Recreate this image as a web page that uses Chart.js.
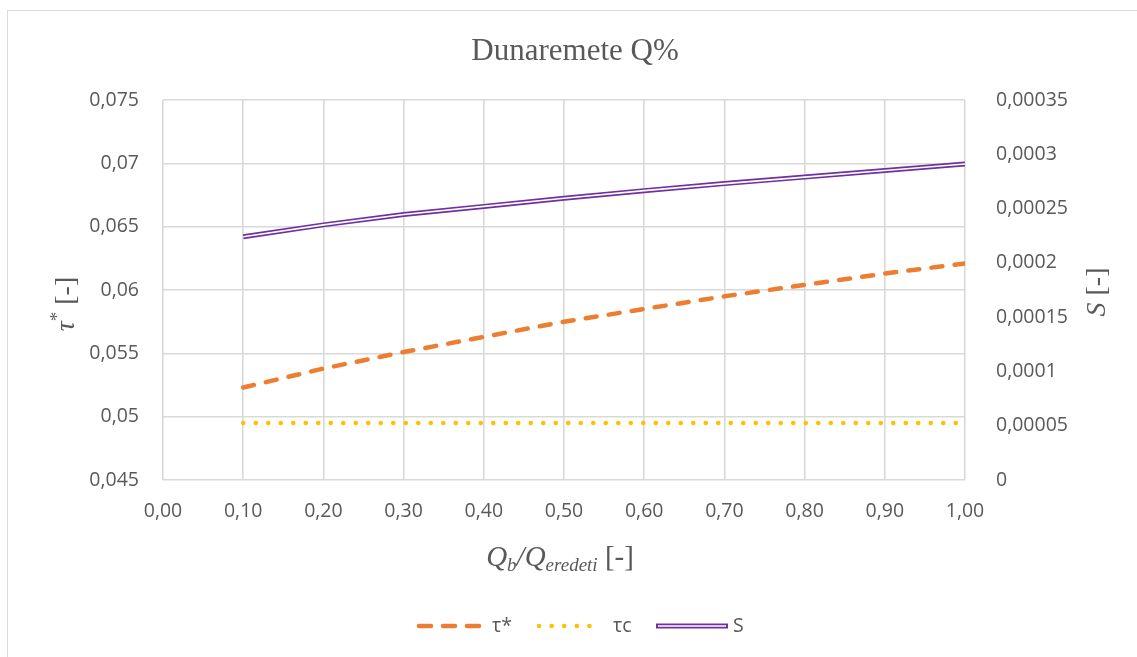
<!DOCTYPE html>
<html>
<head>
<meta charset="utf-8">
<script src="https://cdn.jsdelivr.net/npm/chart.js@4/dist/chart.umd.min.js"></script>
<style>
html, body { margin: 0; padding: 0; background: #fff; }
#wrap { position: relative; width: 1137px; height: 657px; overflow: hidden; }
#frame { position: absolute; left: 7px; top: 10px; width: 1300px; height: 800px; border: 1px solid #d9d9d9; }
canvas { position: absolute; left: 0; top: 0; }
</style>
</head>
<body>
<div id="wrap">
  <div id="frame"></div>
  <canvas id="myChart" width="1137" height="657"></canvas>
</div>
<script>
'use strict';

// values
const ratio = [0.1, 0.2, 0.3, 0.4, 0.5, 0.6, 0.7, 0.8, 0.9, 1.0];
const tauStar = [0.0523, 0.0538, 0.0551, 0.0563, 0.0575, 0.0585, 0.0595, 0.0604, 0.0613, 0.0621];
const tauC = [0.0495, 0.0495, 0.0495, 0.0495, 0.0495, 0.0495, 0.0495, 0.0495, 0.0495, 0.0495];
const slope = [0.000224, 0.000235, 0.0002445, 0.000252, 0.0002595, 0.0002665, 0.000273, 0.000279, 0.000285, 0.000291];

const chartTitle = 'Dunaremete Q%';
const legendLabels = ['τ*', 'τc', 'S'];

const ORANGE = '#ed7d31';
const YELLOW = '#ffc000';
const PURPLE = '#7030a0';
const GRID = '#d9d9d9';
const TEXT = '#595959';
const TICK_FONT = { family: "'Open Sans'", size: 19.5 };

function points(ys) {
    return ratio.map((x, i) => ({ x: x, y: ys[i] }));
}

function fmt(v) {
    return String(Number(v.toFixed(6))).replace('.', ',');
}

// draws a row of text pieces with different fonts
function drawRuns(ctx, runs, x, y, align) {
    let total = 0;
    runs.forEach(r => {
        ctx.font = r.font;
        r.w = ctx.measureText(r.text).width;
        total += r.w;
    });
    let cx = align === 'center' ? x - total / 2 : x;
    runs.forEach(r => {
        ctx.font = r.font;
        ctx.fillText(r.text, cx, y + (r.dy || 0));
        cx += r.w;
    });
}

const serif = "'Liberation Serif', 'Times New Roman', serif";

const decorations = {
    id: 'decorations',
    afterDraw(chart) {
        const ctx = chart.ctx;
        ctx.save();
        ctx.fillStyle = TEXT;
        ctx.textBaseline = 'alphabetic';
        ctx.textAlign = 'left';

        // title
        drawRuns(ctx, [{ text: chartTitle, font: '31px ' + serif }], 575, 60, 'center');

        // x axis title
        drawRuns(ctx, [
            { text: 'Q', font: 'italic 29px ' + serif },
            { text: 'b', font: 'italic 19px ' + serif, dy: 5 },
            { text: '/', font: 'italic 29px ' + serif },
            { text: 'Q', font: 'italic 29px ' + serif },
            { text: 'eredeti', font: 'italic 19px ' + serif, dy: 5 },
            { text: ' [-]', font: '29px ' + serif }
        ], 560, 566, 'center');

        // left axis title
        ctx.save();
        ctx.translate(74, 304);
        ctx.rotate(-Math.PI / 2);
        drawRuns(ctx, [
            { text: 'τ', font: 'italic 28px ' + serif },
            { text: '*', font: '19px ' + serif, dy: -11 },
            { text: ' [-]', font: '28px ' + serif }
        ], 0, 0, 'center');
        ctx.restore();

        // right axis title
        ctx.save();
        ctx.translate(1105, 292);
        ctx.rotate(-Math.PI / 2);
        drawRuns(ctx, [
            { text: 'S', font: 'italic 28px ' + serif },
            { text: ' [-]', font: '28px ' + serif }
        ], 0, 0, 'center');
        ctx.restore();

        // legend
        const ly = 626;
        ctx.lineWidth = 4.5;
        ctx.lineCap = 'round';
        ctx.strokeStyle = ORANGE;
        ctx.setLineDash([12, 12]);
        ctx.beginPath(); ctx.moveTo(419, ly); ctx.lineTo(481, ly); ctx.stroke();
        ctx.strokeStyle = YELLOW;
        ctx.setLineDash([0.1, 12.5]);
        ctx.beginPath(); ctx.moveTo(539, ly); ctx.lineTo(602, ly); ctx.stroke();
        ctx.setLineDash([]);
        ctx.lineCap = 'butt';
        ctx.strokeStyle = PURPLE;
        ctx.lineWidth = 5;
        ctx.beginPath(); ctx.moveTo(656, ly); ctx.lineTo(728, ly); ctx.stroke();
        ctx.strokeStyle = '#fff';
        ctx.lineWidth = 1.6;
        ctx.beginPath(); ctx.moveTo(658, ly); ctx.lineTo(726, ly); ctx.stroke();

        ctx.fillStyle = TEXT;
        ctx.font = TICK_FONT.size + 'px ' + TICK_FONT.family;
        ctx.textBaseline = 'middle';
        ctx.fillText(legendLabels[0], 492, ly);
        ctx.fillText(legendLabels[1], 613, ly);
        ctx.fillText(legendLabels[2], 733, ly);
        ctx.restore();
    }
};

const ctx = document.getElementById('myChart').getContext('2d');
const chart = new Chart(ctx, {
    type: 'line',
    data: {
        datasets: [
            {
                label: 'S-inner',
                data: points(slope),
                yAxisID: 'y1',
                borderColor: '#ffffff',
                borderWidth: 1.6,
                pointRadius: 0,
                order: 0
            },
            {
                label: legendLabels[2],
                data: points(slope),
                yAxisID: 'y1',
                borderColor: PURPLE,
                borderWidth: 5,
                pointRadius: 0,
                order: 1
            },
            {
                label: legendLabels[0],
                data: points(tauStar),
                yAxisID: 'y',
                borderColor: ORANGE,
                borderWidth: 4.5,
                borderDash: [11, 12.3],
                borderCapStyle: 'round',
                pointRadius: 0,
                order: 2
            },
            {
                label: legendLabels[1],
                data: points(tauC),
                yAxisID: 'y',
                borderColor: YELLOW,
                borderWidth: 4.5,
                borderDash: [0.1, 12.4],
                borderCapStyle: 'round',
                pointRadius: 0,
                order: 3
            }
        ]
    },
    options: {
        responsive: false,
        animation: false,
        layout: { padding: { left: 0, right: 0, top: 100, bottom: 0 } },
        plugins: {
            legend: { display: false },
            title: { display: false },
            tooltip: { enabled: false }
        },
        scales: {
            x: {
                type: 'linear',
                min: 0,
                max: 1,
                grid: { color: GRID, lineWidth: 1.6, drawTicks: false },
                border: { display: false },
                ticks: {
                    stepSize: 0.1,
                    autoSkip: false,
                    maxRotation: 0,
                    padding: 20,
                    color: TEXT,
                    font: TICK_FONT,
                    callback: v => v.toFixed(2).replace('.', ',')
                },
                afterFit: s => { s.height = 177; }
            },
            y: {
                position: 'left',
                min: 0.045,
                max: 0.075,
                grid: { color: GRID, lineWidth: 1.6, drawTicks: false },
                border: { display: false },
                ticks: {
                    stepSize: 0.005,
                    autoSkip: false,
                    padding: 24,
                    color: TEXT,
                    font: TICK_FONT,
                    callback: v => fmt(v)
                },
                afterFit: s => { s.width = 163; }
            },
            y1: {
                position: 'right',
                min: 0,
                max: 0.00035,
                grid: { display: false },
                border: { display: false },
                ticks: {
                    stepSize: 0.00005,
                    autoSkip: false,
                    padding: 23,
                    color: TEXT,
                    font: TICK_FONT,
                    callback: v => fmt(v)
                },
                afterFit: s => { s.width = 172; }
            }
        }
    },
    plugins: [decorations]
});
</script>
</body>
</html>
